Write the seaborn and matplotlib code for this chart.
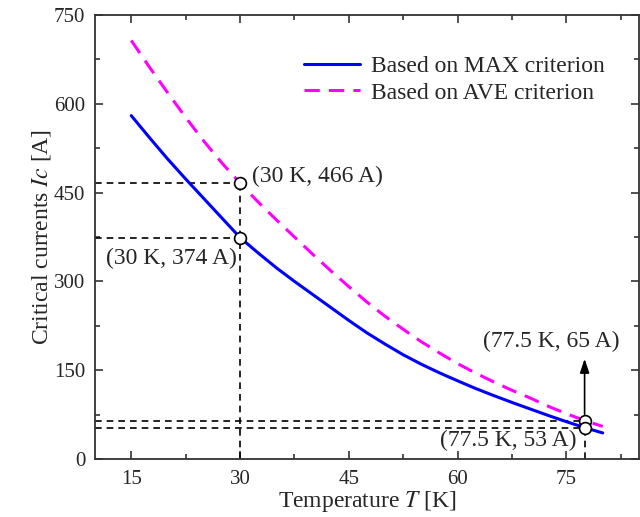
import numpy as np
import pandas as pd
import matplotlib
matplotlib.use('Agg')
import matplotlib.pyplot as plt
import seaborn as sns

# values
temps = [15, 17.5, 20, 22.5, 25, 27.5, 30, 32.5, 35, 37.5, 40, 42.5, 45, 47.5,
         50, 52.5, 55, 57.5, 60, 62.5, 65, 67.5, 70, 72.5, 75, 77.5, 80]
ic_max = [580, 543, 507, 473, 440, 407, 374, 348, 323, 300, 278, 256, 234, 213,
          194, 176, 160, 145.5, 132, 119, 107, 95.5, 84.5, 73.5, 63, 53, 44]
ic_ave = [707, 662, 619, 577, 537, 500, 466, 434, 404, 375, 346, 318, 291, 265,
          241, 219, 198, 179, 161, 145, 130, 116, 103, 89, 76.5, 65, 55]
labels = ['Based on MAX criterion', 'Based on AVE criterion']

# marked points (T, Ic)
mark_t = [30, 30, 77.5, 77.5]
mark_ic = [466, 374, 65, 53]
mark_text = ['(30 K, 466 A)', '(30 K, 374 A)', '(77.5 K, 65 A)', '(77.5 K, 53 A)']

sns.set_theme(style='ticks')
plt.rcParams['font.family'] = ['Liberation Serif', 'DejaVu Serif']
plt.rcParams['mathtext.fontset'] = 'stix'
plt.rcParams['font.size'] = 17

df = pd.DataFrame({
    'T': temps * 2,
    'Ic': ic_max + ic_ave,
    'criterion': [labels[0]] * len(temps) + [labels[1]] * len(temps),
})

fig = plt.figure(figsize=(6.4, 5.17), dpi=100)
ax = fig.add_axes([95 / 640, 58 / 517, 544 / 640, 444 / 517])

sns.lineplot(data=df, x='T', y='Ic', hue='criterion', style='criterion',
             palette={labels[0]: '#0000ff', labels[1]: '#ff00ff'},
             dashes={labels[0]: '', labels[1]: (5, 3)},
             linewidth=2.2, ax=ax)

# guide lines
xmin, xmax = 10, 85
guide = dict(color='black', lw=1.2, ls=(0, (4, 3)), zorder=1)
for t, ic in zip(mark_t, mark_ic):
    ax.plot([xmin, t], [ic, ic], **guide)
ax.plot([mark_t[0], mark_t[0]], [0, mark_ic[0]], **guide)
ax.plot([mark_t[3], mark_t[3]], [0, mark_ic[3]], **guide)

ax.plot(mark_t, mark_ic, ls='none', marker='o', ms=8.5, mfc='white',
        mec='black', mew=1.2, zorder=5)

ax.annotate('', xy=(mark_t[2], 174), xytext=(mark_t[2], mark_ic[2] + 6),
            arrowprops=dict(arrowstyle='-|>,head_length=0.6,head_width=0.2',
                            color='black', lw=1.2, mutation_scale=14))

ax.text(31.7, 477, mark_text[0], ha='left', va='center', fontsize=17)
ax.text(29.5, 338, mark_text[1], ha='right', va='center', fontsize=17)
ax.text(72.9, 198, mark_text[2], ha='center', va='center', fontsize=17)
ax.text(67.0, 31, mark_text[3], ha='center', va='center', fontsize=17)

ax.set_xlim(xmin, xmax)
ax.set_ylim(0, 750)
ax.set_xticks([15, 30, 45, 60, 75])
ax.set_xticks(np.arange(22.5, 85, 15), minor=True)
ax.set_yticks([0, 150, 300, 450, 600, 750])
ax.set_yticks(np.arange(75, 750, 150), minor=True)
ax.tick_params(which='both', direction='in', top=True, right=True,
               width=1.2, color='#333333', labelsize=15)
ax.tick_params(which='major', length=6)
ax.tick_params(which='minor', length=3.5)
ax.tick_params(axis='x', pad=8)
ax.tick_params(axis='y', pad=7)
for s in ax.spines.values():
    s.set_linewidth(1.3)
    s.set_color('#333333')

ax.set_xlabel('Temperature $T$ [K]', fontsize=17, labelpad=0)
ax.set_ylabel('Critical currents $Ic$ [A]', fontsize=17, labelpad=1)

h, l = ax.get_legend_handles_labels()
ax.legend(h, l, loc='upper left', bbox_to_anchor=(0.385, 0.908),
          frameon=False, borderpad=0, borderaxespad=0, handlelength=2.35,
          handletextpad=0.47, labelspacing=0.2, fontsize=17)

plt.savefig('out.png', dpi=100)
